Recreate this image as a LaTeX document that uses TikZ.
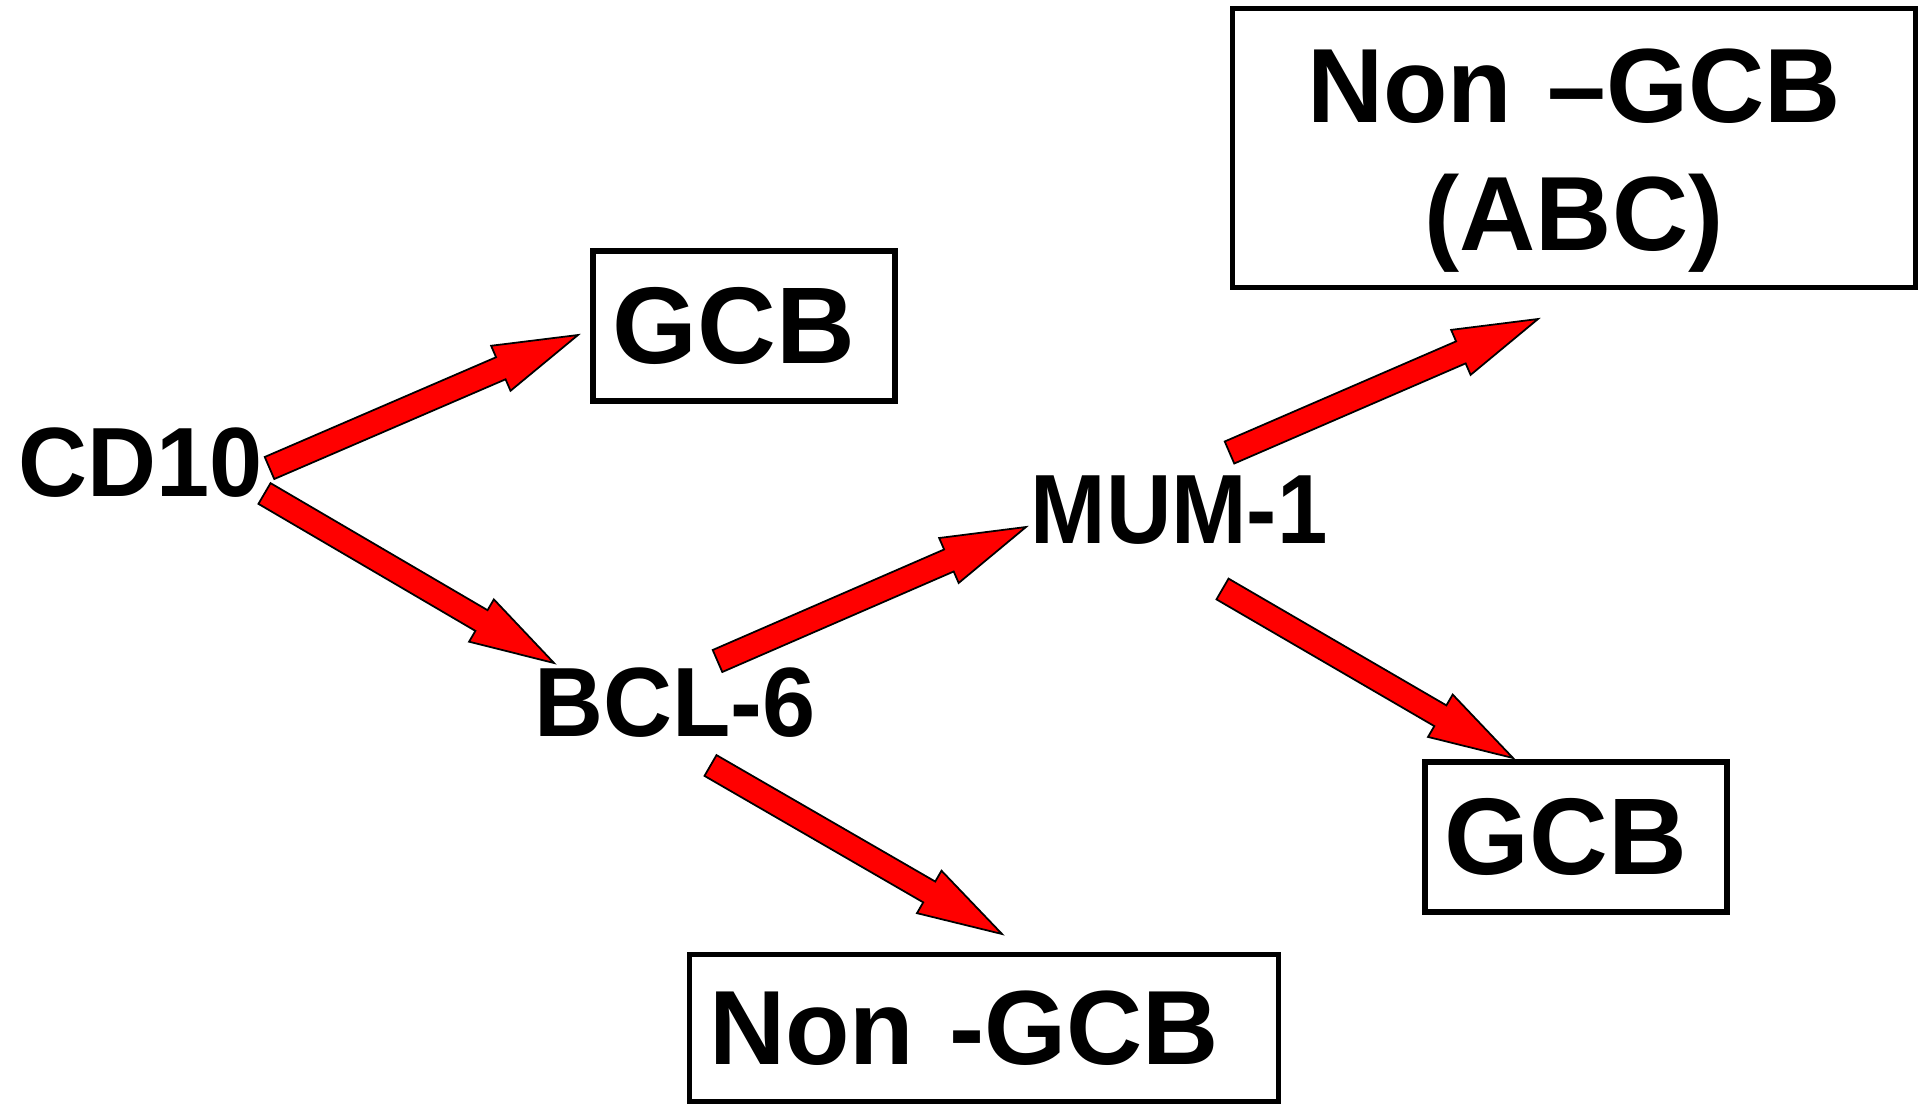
\documentclass[tikz,border=0pt]{standalone}
\usepackage{fontspec}
\setmainfont{Liberation Sans}
\newfontfamily\markerfont[FakeStretch=0.97]{Liberation Sans}
\newfontfamily\narrowfont[FakeStretch=0.92]{Liberation Sans}
\usepackage{xcolor}
\usepackage{tikz}
\usetikzlibrary{positioning, calc}
\definecolor{dx-red}{HTML}{FF0000}
\definecolor{dx-ink}{HTML}{000000}

\newcommand{\shaftw}{0.12cm}
\newcommand{\headw}{0.245cm}
\newcommand{\headlen}{0.84cm}
\newcommand{\blockarrow}[2]{%
  \coordinate (hb) at ($(#2)!\headlen!(#1)$);
  \draw[redarrow] ($(#1)!\shaftw!90:(#2)$) -- ($(hb)!\shaftw!-90:(#1)$)
    -- ($(hb)!\headw!-90:(#1)$) -- (#2) -- ($(hb)!\headw!90:(#1)$)
    -- ($(hb)!\shaftw!90:(#1)$) -- ($(#1)!\shaftw!-90:(#2)$) -- cycle;}

\begin{document}
\begin{tikzpicture}[
			x=0.01cm, y=-0.01cm,
			marker/.style={
				inner sep=0pt,
				font=\markerfont\fontsize{28}{34}\selectfont\bfseries
			},
			result/.style={
				draw=dx-ink, line width=1.5pt,
				align=left, inner xsep=0.2cm, minimum height=1.5cm,
				font=\fontsize{30}{36.5}\selectfont\bfseries
			},
			redarrow/.style={draw=dx-ink, fill=dx-red, line width=0.5pt}
			]
			\useasboundingbox (0,0) rectangle (1920,1106);
			% markers
			\node[marker] (cd10) at (141,463) {CD10};
			\node[marker] (bcl6) at (675,703) {BCL-6};
			\node[marker, font=\narrowfont\fontsize{28}{34}\selectfont\bfseries] (mum1) at (1179,510) {MUM-1};
			% subtypes
			\node[result, text width=2.62cm, font=\fontsize{31}{37}\selectfont\bfseries] (gcb-top) at (744,326) {GCB};
			\node[result, text width=2.62cm, font=\fontsize{31}{37}\selectfont\bfseries] (gcb-right) at (1576,837) {GCB};
			\node[result, text width=6.42cm, align=center, minimum height=2.79cm] (abc) at (1574,148) {\rule{0pt}{28pt}Non –GCB\\(ABC)};
			\node[result, text width=5.49cm, minimum height=1.47cm] (non-gcb) at (984,1028) {Non -GCB};
			% arrow ends
			\coordinate (cd10-up) at (269.5,468);
			\coordinate (cd10-down) at (264.5,493.5);
			\coordinate (bcl6-up) at (717.5,661);
			\coordinate (bcl6-down) at (710.5,765.5);
			\coordinate (mum1-up) at (1229.5,452.5);
			\coordinate (mum1-down) at (1222.5,589);
			\coordinate (gcb-top-in) at (578,335);
			\coordinate (bcl6-in) at (554,663);
			\coordinate (mum1-in) at (1026,527);
			\coordinate (abc-in) at (1538,319);
			\coordinate (gcb-right-in) at (1513,758);
			\coordinate (non-gcb-in) at (1002,934);
			% arrows
			\blockarrow{cd10-up}{gcb-top-in}
			\blockarrow{cd10-down}{bcl6-in}
			\blockarrow{bcl6-up}{mum1-in}
			\blockarrow{bcl6-down}{non-gcb-in}
			\blockarrow{mum1-up}{abc-in}
			\blockarrow{mum1-down}{gcb-right-in}
		\end{tikzpicture}
\end{document}
